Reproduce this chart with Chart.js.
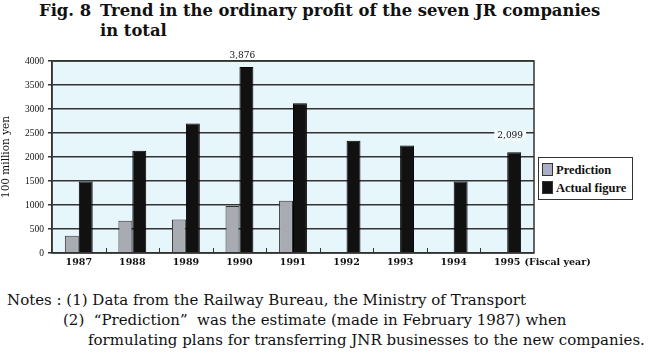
<!DOCTYPE html>
<html>
<head>
<meta charset="utf-8">
<script src="https://cdn.jsdelivr.net/npm/chart.js@4/dist/chart.umd.min.js"></script>
<style>
  body { margin: 0; background: #fff; width: 650px; height: 353px; overflow: hidden; position: relative; font-family: "DejaVu Serif", serif; color: #111; }
  #title { position: absolute; left: 39px; top: 1px; font-weight: bold; font-size: 16.4px; line-height: 20px; white-space: nowrap; }
  #title .fig { display: inline-block; width: 61px; }
  #title .cont { padding-left: 61px; }
  #chartBox { position: absolute; left: 0; top: 50px; width: 650px; height: 225px; }
  #legend { position: absolute; left: 538px; top: 157px; width: 95px; height: 43px; border: 1.5px solid #333; background: #fff; font-family: "Liberation Serif", serif; font-size: 12.5px; font-weight: bold; box-sizing: border-box; padding: 3px 0 0 3px; }
  #legend div { height: 18px; line-height: 18px; white-space: nowrap; }
  #legend span.sw { display: inline-block; width: 11px; height: 13px; vertical-align: -2px; margin-right: 3px; box-sizing: border-box; border: 1px solid #333; }
  #notes { position: absolute; left: 7px; top: 290px; font-size: 15px; line-height: 20px; white-space: nowrap; }
</style>
</head>
<body>
<div id="title"><span class="fig">Fig. 8</span>Trend in the ordinary profit of the seven JR companies<div class="cont">in total</div></div>
<div id="chartBox"><canvas id="profitChart"></canvas></div>
<div id="legend">
  <div><span class="sw" style="background:#a9aec4"></span>Prediction</div>
  <div><span class="sw" style="background:#111"></span>Actual figure</div>
</div>
<div id="notes">
  <div>Notes : (1) Data from the Railway Bureau, the Ministry of Transport</div>
  <div style="padding-left:56px">(2)&nbsp; “Prediction”&nbsp; was the estimate (made in February 1987) when</div>
  <div style="padding-left:81px">formulating plans for transferring JNR businesses to the new companies.</div>
</div>
<script>
const years = ['1987', '1988', '1989', '1990', '1991', '1992', '1993', '1994', '1995'];
const prediction = [360, 670, 700, 980, 1090, null, null, null, null];
const actual = [1490, 2130, 2700, 3876, 3120, 2340, 2240, 1490, 2099];
const valueLabels = [null, null, null, '3,876', null, null, null, null, '2,099'];
const yTicks = [0, 500, 1000, 1500, 2000, 2500, 3000, 3500, 4000];

// background, frame, inward x ticks, value labels, "(Fiscal year)"
const extras = {
    id: 'extras',
    beforeDraw(chart) {
        const a = chart.chartArea;
        const ctx = chart.ctx;
        ctx.save();
        ctx.fillStyle = '#e6f6fb';
        ctx.fillRect(a.left, a.top, a.right - a.left, a.bottom - a.top);
        ctx.restore();
    },
    afterDraw(chart) {
        const a = chart.chartArea;
        const ctx = chart.ctx;
        const x = chart.scales.x;
        ctx.save();
        ctx.strokeStyle = '#333';
        ctx.lineWidth = 1.5;
        ctx.strokeRect(a.left, a.top, a.right - a.left, a.bottom - a.top);

        // small tick marks between categories, pointing up
        ctx.lineWidth = 1;
        const step = (a.right - a.left) / years.length;
        for (let i = 1; i < years.length; i++) {
            const px = Math.round(a.left + step * i) + 0.5;
            ctx.beginPath();
            ctx.moveTo(px, a.bottom);
            ctx.lineTo(px, a.bottom - 5);
            ctx.stroke();
        }

        // value labels above actual bars
        const meta = chart.getDatasetMeta(1);
        ctx.font = '9px "DejaVu Serif", serif';
        ctx.textAlign = 'center';
        ctx.textBaseline = 'bottom';
        valueLabels.forEach((lbl, i) => {
            if (!lbl) return;
            const bar = meta.data[i];
            const tx = bar.x - 4;
            const ty = bar.y - (i === 8 ? 12 : 7);
            const w = ctx.measureText(lbl).width;
            if (ty > a.top) {
                ctx.fillStyle = '#f4fbfd';
                ctx.fillRect(tx - w / 2 - 3, ty - 10, w + 6, 11);
            }
            ctx.fillStyle = '#111';
            ctx.fillText(lbl, tx, ty);
        });

        // "(Fiscal year)" after the last tick label
        ctx.font = 'bold 9.5px "DejaVu Serif", serif';
        const lastX = x.getPixelForValue(years.length - 1);
        const w95 = ctx.measureText(years[years.length - 1]).width;
        ctx.textAlign = 'left';
        ctx.textBaseline = 'middle';
        ctx.fillStyle = '#111';
        ctx.fillText('(Fiscal year)', lastX + w95 / 2 + 4, a.bottom + 10);
        ctx.restore();
    }
};

new Chart(document.getElementById('profitChart'), {
    type: 'bar',
    data: {
        labels: years,
        datasets: [
            {
                label: 'Prediction',
                data: prediction,
                backgroundColor: '#a9abb3',
                borderColor: '#333',
                borderWidth: 1
            },
            {
                label: 'Actual figure',
                data: actual,
                backgroundColor: '#111',
                borderColor: '#000',
                borderWidth: 1
            }
        ]
    },
    options: {
        responsive: true,
        maintainAspectRatio: false,
        animation: false,
        layout: { padding: { top: 11, right: 116, left: 0, bottom: 0 } },
        datasets: { bar: { categoryPercentage: 0.52, barPercentage: 1 } },
        plugins: {
            legend: { display: false },
            tooltip: { enabled: false }
        },
        scales: {
            x: {
                grid: { display: false, drawTicks: false },
                border: { display: false },
                ticks: {
                    color: '#111',
                    padding: 4,
                    font: { family: '"DejaVu Serif", serif', size: 9.5, weight: 'bold' }
                },
                afterFit(scale) { scale.height = 22; }
            },
            y: {
                min: 0,
                max: 4000,
                afterBuildTicks(scale) { scale.ticks = yTicks.map(v => ({ value: v })); },
                grid: { color: '#333', lineWidth: 1.5, tickLength: 4, tickColor: '#333' },
                border: { color: '#333', width: 1.5 },
                ticks: {
                    color: '#111',
                    padding: 4,
                    callback: v => String(v),
                    font: { family: '"Liberation Serif", serif', size: 9.5 }
                },
                title: {
                    display: true,
                    text: '100 million yen',
                    color: '#111',
                    padding: 0,
                    font: { family: '"DejaVu Serif", serif', size: 10.5 }
                },
                afterFit(scale) { scale.width = 52; }
            }
        }
    },
    plugins: [extras]
});
</script>
</body>
</html>
